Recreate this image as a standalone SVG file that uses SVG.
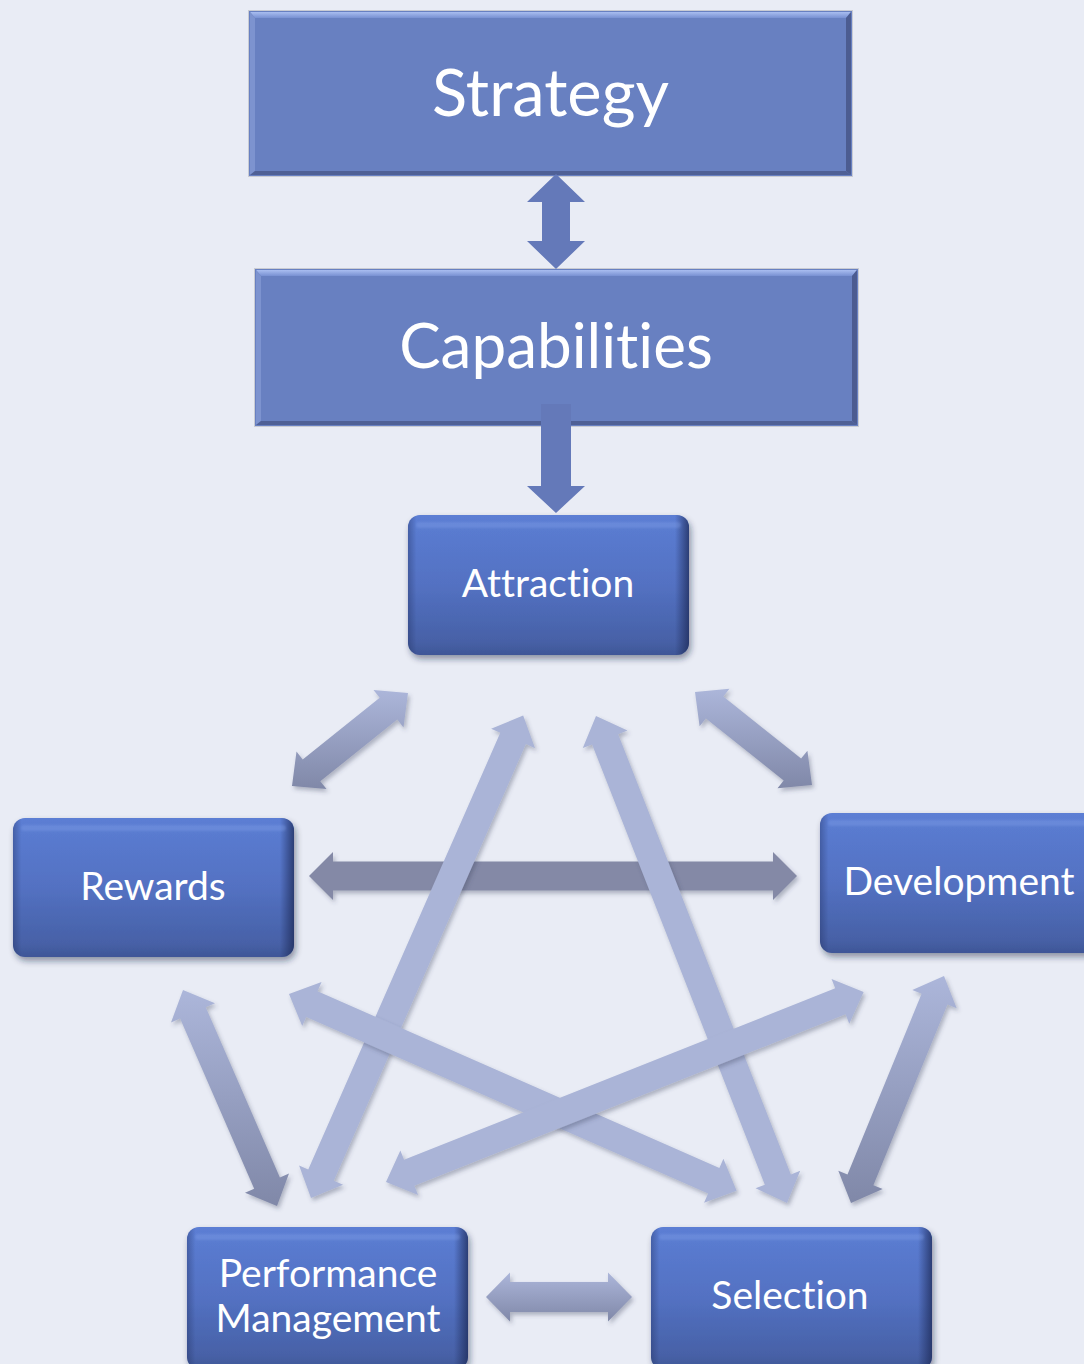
<svg xmlns="http://www.w3.org/2000/svg" width="1084" height="1364" viewBox="0 0 1084 1364">
  <defs>
    <style>
      .bg { fill: #e9ecf5; }
      .big-text { font-family: Lato, "Open Sans", sans-serif; font-size: 65px; fill: #ffffff; text-anchor: middle; font-variant-ligatures: none; }
      .big-text.narrow { font-size: 62px; }
      .nt { font-family: Lato, "Open Sans", sans-serif; font-size: 39px; fill: #ffffff; text-anchor: middle; font-variant-ligatures: none; }
      .nb { fill: url(#nodeFill); filter: url(#nodeShadow); }
      .ne { fill: url(#nodeEdge); }
      .nh { fill: #8aa8ee; opacity: 0.3; filter: url(#soft); }
      .frame { fill: #6880c1; stroke: #c9cbd3; }
      .link { fill: #6479b9; }
      .star { fill: #aab4d7; }
      .ring { fill: url(#ringFill); }
      .cross { fill: #8489a6; }
    </style>
    <linearGradient id="nodeFill" x1="0" y1="0" x2="0" y2="1">
      <stop offset="0" stop-color="#5b7ed4"/>
      <stop offset="0.1" stop-color="#5a7bd0"/>
      <stop offset="0.5" stop-color="#5371c2"/>
      <stop offset="0.9" stop-color="#4761a7"/>
      <stop offset="1" stop-color="#3f5697"/>
    </linearGradient>
    <linearGradient id="nodeEdge" x1="0" y1="0" x2="1" y2="0">
      <stop offset="0" stop-color="#1d2a58" stop-opacity="0.35"/>
      <stop offset="0.03" stop-color="#1d2a58" stop-opacity="0"/>
      <stop offset="0.95" stop-color="#1d2a58" stop-opacity="0"/>
      <stop offset="1" stop-color="#1d2a58" stop-opacity="0.75"/>
    </linearGradient>
    <linearGradient id="ringFill" x1="0" y1="0" x2="0" y2="1">
      <stop offset="0" stop-color="#acb6da"/>
      <stop offset="1" stop-color="#8088a8"/>
    </linearGradient>
    <linearGradient id="bevelTop" x1="0" y1="0" x2="0" y2="1">
      <stop offset="0" stop-color="#a9bdf0"/>
      <stop offset="1" stop-color="#7890d2"/>
    </linearGradient>
    <filter id="nodeShadow" x="-10%" y="-10%" width="125%" height="130%">
      <feDropShadow dx="2" dy="4" stdDeviation="3" flood-color="#1c2340" flood-opacity="0.45"/>
    </filter>
    <filter id="arrowShadow" x="-10%" y="-10%" width="130%" height="130%">
      <feDropShadow dx="2" dy="3" stdDeviation="2" flood-color="#3a4060" flood-opacity="0.35"/>
    </filter>
    <filter id="soft" x="-5%" y="-50%" width="110%" height="200%">
      <feGaussianBlur stdDeviation="1.2"/>
    </filter>
  </defs>

  <rect class="bg" x="0" y="0" width="1084" height="1364"/>

  <!-- bevelled top-level boxes -->
  <g id="node-strategy">
    <rect class="frame" x="248.5" y="10.5" width="604" height="166"/>
    <polygon points="250,12 851,12 846,18 255,18" fill="url(#bevelTop)"/>
    <polygon points="250,12 255,18 255,171 250,175" fill="#7d93cf"/>
    <polygon points="851,12 851,175 846,171 846,18" fill="#4c5c91"/>
    <polygon points="250,175 851,175 846,171 255,171" fill="#4f6096"/>
    <text class="big-text" x="550.5" y="116">Strategy</text>
  </g>

  <g id="node-capabilities">
    <rect class="frame" x="254.5" y="268.5" width="604" height="158"/>
    <polygon points="256,270 857,270 852,276 261,276" fill="url(#bevelTop)"/>
    <polygon points="256,270 261,276 261,421 256,425" fill="#7d93cf"/>
    <polygon points="857,270 857,425 852,421 852,276" fill="#4c5c91"/>
    <polygon points="256,425 857,425 852,421 261,421" fill="#4f6096"/>
    <text class="big-text narrow" x="556" y="368">Capabilities</text>
  </g>

  <!-- process nodes -->
  <g id="node-attraction">
    <rect class="nb" x="408" y="515" width="281" height="140" rx="12"/>
    <rect class="ne" x="408" y="515" width="281" height="140" rx="12"/>
    <rect class="nh" x="416" y="522" width="265" height="6" rx="3"/>
    <text class="nt" x="548" y="597">Attraction</text>
  </g>

  <g id="node-rewards">
    <rect class="nb" x="13" y="818" width="281" height="139" rx="12"/>
    <rect class="ne" x="13" y="818" width="281" height="139" rx="12"/>
    <rect class="nh" x="21" y="825" width="265" height="6" rx="3"/>
    <text class="nt" x="153" y="900">Rewards</text>
  </g>

  <g id="node-development">
    <rect class="nb" x="820" y="813" width="284" height="140" rx="12"/>
    <rect class="ne" x="820" y="813" width="284" height="140" rx="12"/>
    <rect class="nh" x="828" y="820" width="268" height="6" rx="3"/>
    <text class="nt" x="959" y="895">Development</text>
  </g>

  <g id="node-performance">
    <rect class="nb" x="187" y="1227" width="281" height="142" rx="12"/>
    <rect class="ne" x="187" y="1227" width="281" height="142" rx="12"/>
    <rect class="nh" x="195" y="1234" width="265" height="6" rx="3"/>
    <text class="nt" x="328" y="1287">Performance</text>
    <text class="nt" x="328" y="1332">Management</text>
  </g>

  <g id="node-selection">
    <rect class="nb" x="651" y="1227" width="281" height="142" rx="12"/>
    <rect class="ne" x="651" y="1227" width="281" height="142" rx="12"/>
    <rect class="nh" x="659" y="1234" width="265" height="6" rx="3"/>
    <text class="nt" x="790" y="1309">Selection</text>
  </g>

  <g id="connectors">
    <!-- Strategy <-> Capabilities -->
    <polygon class="link" points="556,174 527,202 542,202 542,241 527,241 556,269 585,241 570,241 570,202 585,202"/>
    <!-- Capabilities -> Attraction -->
    <polygon class="link" fill="#5f74b5" points="541,404 571,404 571,486 585,486 556,513 527,486 541,486"/>

    <!-- Rewards <-> Development -->
    <g filter="url(#arrowShadow)">
      <polygon class="cross" points="309,876 333,852 333,861.5 773,861.5 773,852 797,876 773,900 773,890.5 333,890.5 333,900"/>
    </g>

    <!-- outer ring -->
    <g filter="url(#arrowShadow)">
      <!-- Attraction <-> Rewards -->
      <polygon class="ring" points="292,786 326.5,789.1 320.3,781.3 397.3,719.6 403.5,727.4 408,693 373.5,689.9 379.7,697.7 302.7,759.4 296.5,751.6"/>
      <!-- Attraction <-> Development -->
      <polygon class="ring" points="695,692 699.6,726.3 705.9,718.5 783.7,780.4 777.5,788.2 812,785 807.4,750.7 801.1,758.5 723.3,696.6 729.5,688.8"/>
      <!-- Rewards <-> Performance Management -->
      <polygon class="ring" points="183,990 171,1022.5 180.1,1018.5 254.2,1188.7 245,1192.7 277,1206 289,1173.5 279.9,1177.5 205.8,1007.3 215,1003.3"/>
      <!-- Development <-> Selection -->
      <polygon class="ring" points="944,976 912.3,990 921.6,993.8 847.5,1174.6 838.3,1170.8 851,1203 882.7,1189 873.4,1185.2 947.5,1004.4 956.7,1008.2"/>
      <!-- Performance Management <-> Selection -->
      <polygon class="ring" points="486,1297 510,1272.5 510,1282 608,1282 608,1272.5 632,1297 608,1321.5 608,1312 510,1312 510,1321.5"/>
    </g>

    <!-- inner star -->
    <g filter="url(#arrowShadow)">
      <!-- Attraction <-> Performance Management -->
      <path class="star" transform="translate(311 1198) rotate(-66.26)" d="M0,0 L25,-24 L25,-14 L502,-14 L502,-24 L527,0 L502,24 L502,14 L25,14 L25,24 Z"/>
    </g>
    <g filter="url(#arrowShadow)">
      <!-- Attraction <-> Selection -->
      <path class="star" transform="translate(596 716) rotate(68.58)" d="M0,0 L25,-24 L25,-14 L498,-14 L498,-24 L523,0 L498,24 L498,14 L25,14 L25,24 Z"/>
    </g>
    <g filter="url(#arrowShadow)">
      <!-- Rewards <-> Selection -->
      <path class="star" transform="translate(289 994) rotate(23.74)" d="M0,0 L25,-24 L25,-14 L464,-14 L464,-24 L489,0 L464,24 L464,14 L25,14 L25,24 Z"/>
    </g>
    <g filter="url(#arrowShadow)">
      <!-- Development <-> Performance Management -->
      <path class="star" transform="translate(386 1182) rotate(-21.68)" d="M0,0 L25,-24 L25,-14 L489,-14 L489,-24 L514,0 L489,24 L489,14 L25,14 L25,24 Z"/>
    </g>
  </g>
</svg>
